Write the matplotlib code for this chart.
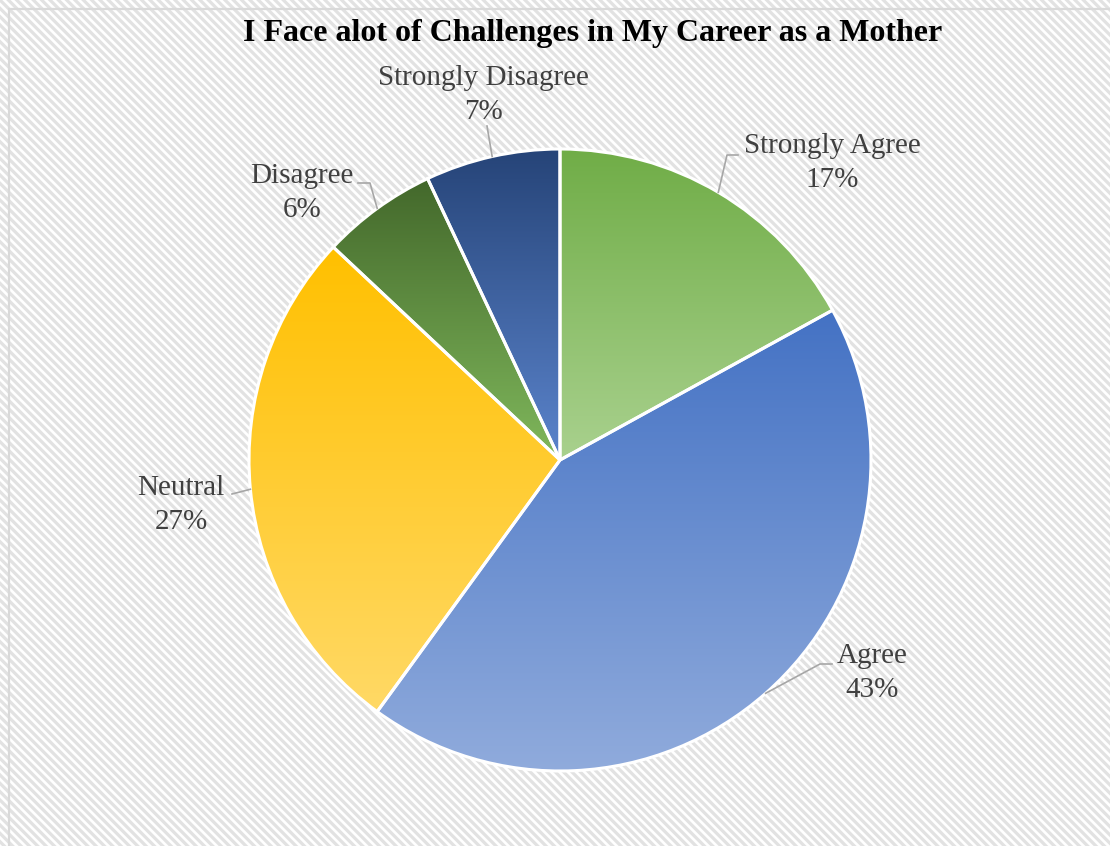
import numpy as np
import matplotlib.pyplot as plt
from matplotlib.colors import to_rgb
from matplotlib.patches import Rectangle

W, H = 1110, 846

labels = ["Strongly Agree", "Agree", "Neutral", "Disagree", "Strongly Disagree"]
shares = [17, 43, 27, 6, 7]
top_colors = ["#70AD47", "#4472C4", "#FFC000", "#43682B", "#264478"]
bottom_colors = ["#A9D18E", "#90ABDC", "#FFD966", "#80B85C", "#5B84CC"]

# label centres and leader-line elbows, in pixels from the top-left corner
label_pos = [(832, 163), (872, 673), (181, 505), (302, 193), (483, 95)]
elbows = [[(738, 155), (727, 155)],
          [(832, 664), (820, 664)],
          [(232, 494)],
          [(358, 183), (370, 183)],
          [(487, 126)]]


def px(x, y):
    return x, H - y


plt.rcParams["font.family"] = ["Liberation Serif", "DejaVu Serif"]
plt.rcParams["hatch.linewidth"] = 2.3

fig = plt.figure(figsize=(W / 100, H / 100), dpi=100)
fig.patches.append(Rectangle((0, 0), 1, 1, transform=fig.transFigure,
                             facecolor="white", edgecolor="#E2E2E2",
                             hatch="\\\\\\\\", lw=0, zorder=-10))

ax = fig.add_axes([0, 0, 1, 1])
ax.set_axis_off()

# chart border (right and bottom sides fall off the canvas)
ax.plot([9, 9, W + 5], [-5, H - 9, H - 9], color="#D9D9D9", lw=1.6,
        solid_joinstyle="miter")

cx, cy = px(560, 460)
R = 311
wedges, _ = ax.pie(shares, center=(cx, cy), radius=R, startangle=90,
                   counterclock=False, normalize=True,
                   wedgeprops=dict(edgecolor="white", linewidth=2.2))

for w, c0, c1 in zip(wedges, top_colors, bottom_colors):
    bb = w.get_path().get_extents()
    t = np.linspace(0, 1, 256)[:, None]
    grad = (1 - t) * np.array(to_rgb(c0)) + t * np.array(to_rgb(c1))
    im = ax.imshow(grad[:, None, :], extent=(bb.x0, bb.x1, bb.y0, bb.y1),
                   origin="upper", aspect="auto", interpolation="bilinear",
                   zorder=1)
    im.set_clip_path(w)
    w.set_facecolor("none")
    w.set_zorder(2)

# data labels with leader lines
for w, name, val, pos, elb in zip(wedges, labels, shares, label_pos, elbows):
    mid = np.deg2rad((w.theta1 + w.theta2) / 2)
    ex, ey = cx + R * np.cos(mid), cy + R * np.sin(mid)
    pts = [px(*p) for p in elb] + [(ex, ey)]
    ax.plot([p[0] for p in pts], [p[1] for p in pts], color="#A6A6A6",
            lw=1.2, zorder=3)
    lx, ly = px(*pos)
    ax.text(lx, ly, f"{name}\n{val}%", ha="center", va="center",
            fontsize=21, color="#404040", linespacing=1.36, zorder=4)

ax.set_xlim(0, W)
ax.set_ylim(0, H)

fig.text(593 / W, 1 - 33 / H, "I Face alot of Challenges in My Career as a Mother",
         ha="center", va="center", fontsize=23, fontweight="bold", color="black")

fig.savefig("out.png", dpi=100)
